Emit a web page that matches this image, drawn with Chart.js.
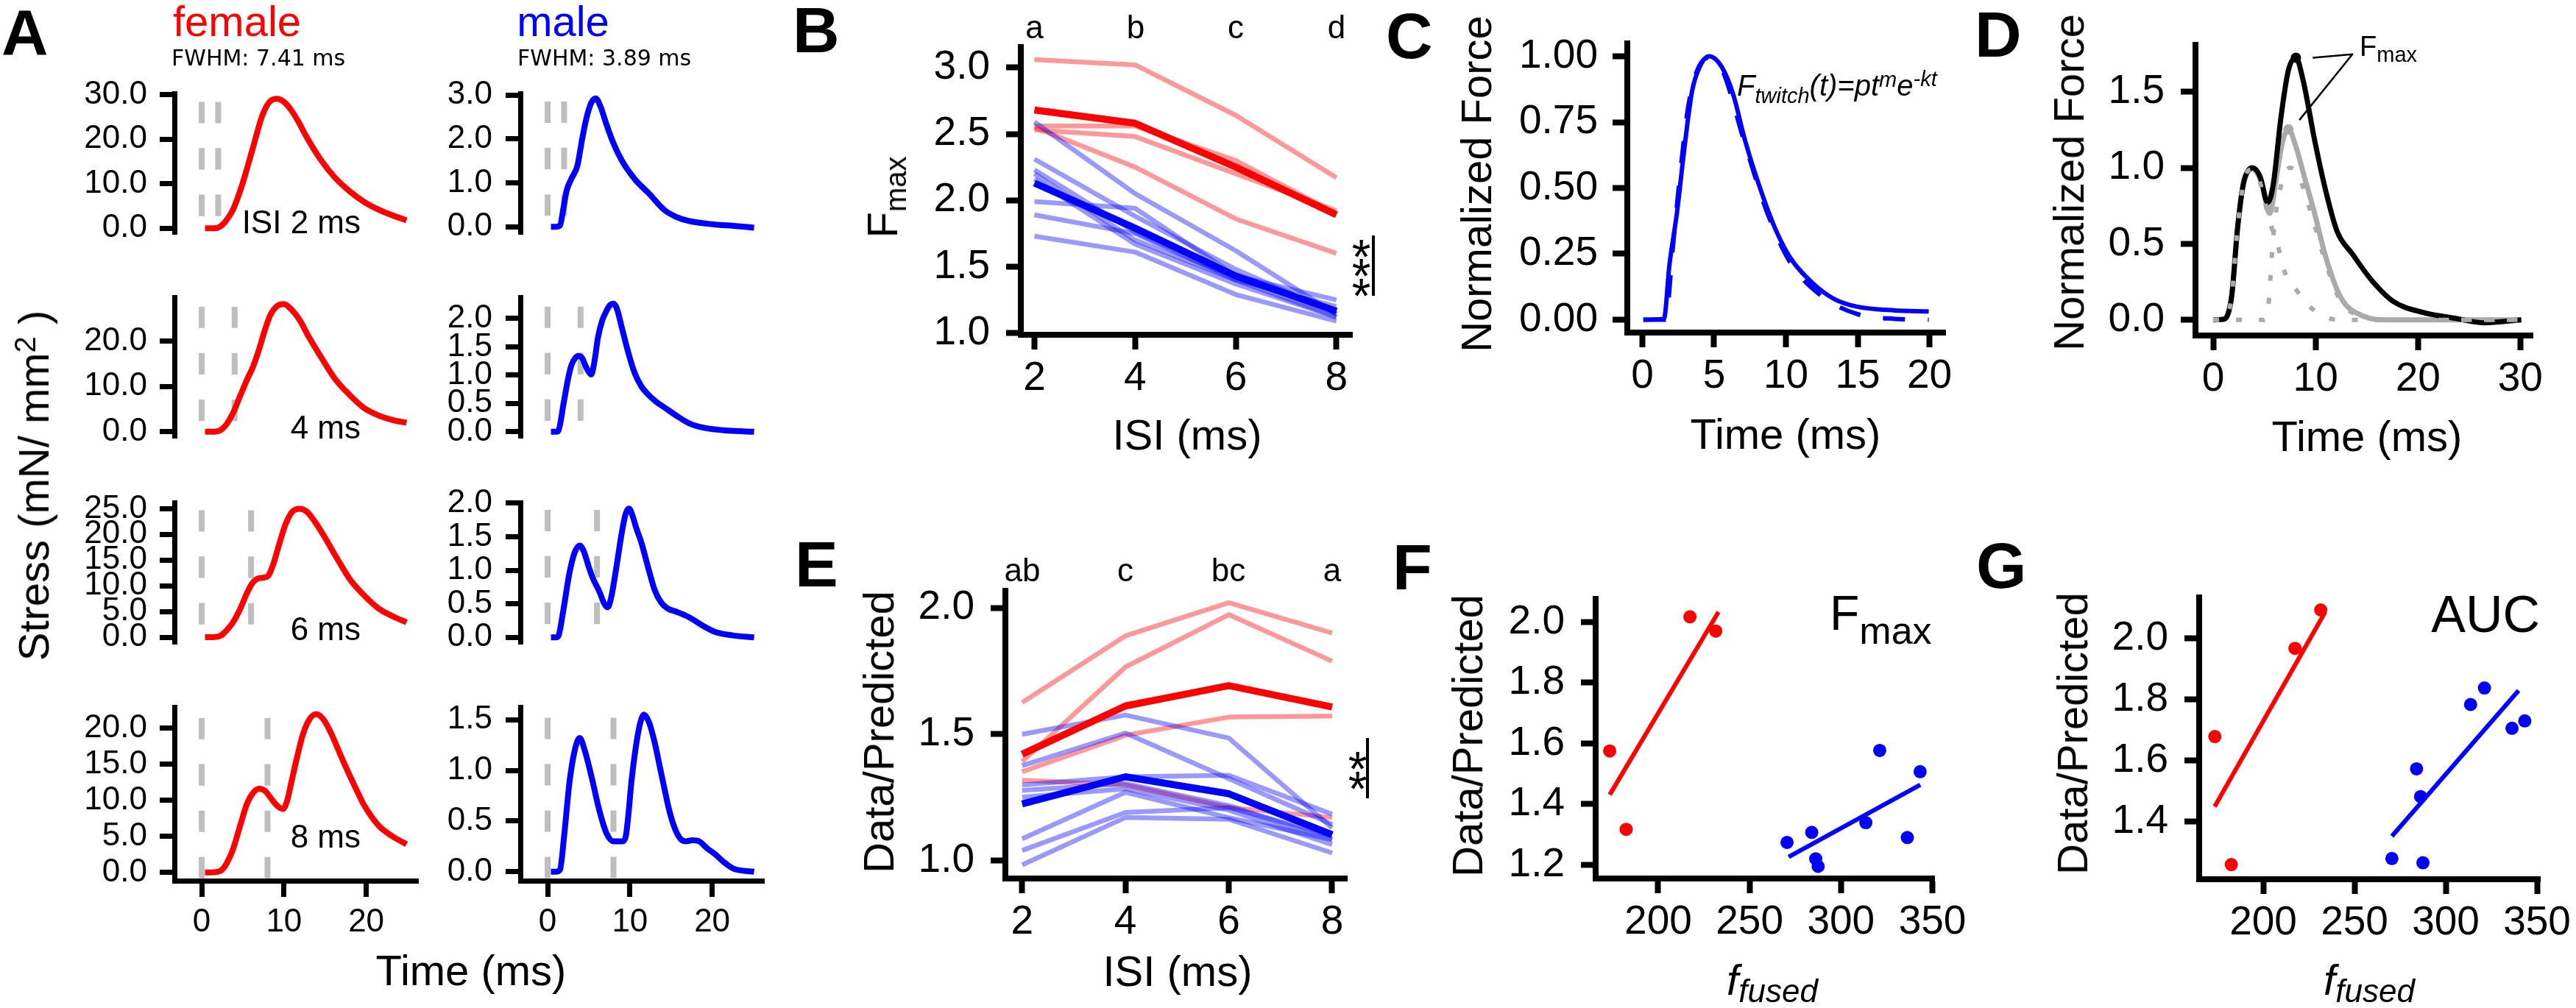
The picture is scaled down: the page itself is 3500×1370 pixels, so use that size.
<!DOCTYPE html>
<html>
<head>
<meta charset="utf-8">
<script src="https://cdn.jsdelivr.net/npm/chart.js@4/dist/chart.umd.min.js"></script>
<style>
body { margin: 0; background: #fff; width: 3500px; height: 1370px; position: relative; overflow: hidden; font-family: "Liberation Sans", Arial, sans-serif; }
canvas { position: absolute; }
.t { position: absolute; white-space: nowrap; line-height: 1; color: #000; }
.s { position: relative; line-height: 0; }
</style>
</head>
<body>
<script>
// ---------- A: stress traces (time in ms, stress) ----------
const isi = [2, 4, 6, 8];
const tF2 = [0.4,1.0,1.9,2.4,3.0,3.8,4.5,5.2,6.3,7.3,8.2,9.1,10.0,10.9,11.8,12.6,14.4,16.2,18.0,19.7,21.5,23.2,24.9];
const sF2 = [0,0,0.1,0.6,1.8,4.2,7.5,11.5,18.6,25.0,28.3,29.1,28.4,26.5,23.8,21.0,15.6,11.4,8.3,6.0,4.2,2.9,1.8];
const tF4 = [0.4,1.0,1.9,2.4,3.0,3.8,4.6,5.5,6.2,6.9,7.6,8.3,9.2,10.0,10.9,11.9,13.0,14.4,16.2,18.0,19.7,21.5,23.2,24.9];
const sF4 = [0,0,0.1,0.5,1.6,4.1,7.6,11.5,14.2,17.8,22.0,25.6,27.8,28.2,27.0,24.7,21.0,16.8,11.7,8.1,5.3,3.6,2.6,2.0];
const tF6 = [0.4,1.0,1.9,2.4,3.0,3.8,4.7,5.5,6.2,6.8,7.5,8.1,8.7,9.4,10.2,11.0,11.9,12.8,13.7,14.9,16.2,17.1,18.0,19.7,21.5,23.2,24.9];
const sF6 = [0,0,0.1,0.4,1.3,2.9,5.6,8.6,10.6,11.4,11.6,12.0,14.2,18.0,22.0,24.4,25.0,24.4,22.6,19.6,16.0,13.6,11.3,8.2,5.6,4.1,2.9];
const tF8 = [0.4,1.0,1.9,2.4,3.0,3.8,4.7,5.5,6.3,7.0,7.7,8.4,9.2,9.9,10.4,10.9,11.6,12.3,13.1,13.9,14.8,15.8,16.9,18.0,19.0,19.7,21.5,23.2,24.9];
const sF8 = [0,0,0.1,0.3,1.2,3.2,6.6,9.5,11.1,11.6,11.3,10.3,9.2,8.8,10.0,12.5,16.0,19.1,21.2,21.9,21.2,19.1,16.2,13.4,11.0,9.4,6.5,5.0,3.9];

const tM2 = [0.4,1.0,1.5,1.9,2.3,2.9,3.6,4.2,4.7,5.3,5.85,6.4,7.15,8.0,9.1,10.7,12.3,14.2,15.7,17.2,20.4,22.6,25.1];
const sM2 = [0,0,0.03,0.4,0.82,1.1,1.38,2.0,2.46,2.82,2.92,2.75,2.33,1.9,1.48,1.06,0.76,0.38,0.22,0.13,0.05,0.02,-0.02];
const tM4 = [0.4,1.0,1.3,1.96,2.5,2.9,3.4,3.76,4.2,4.5,4.9,5.3,5.7,6.1,6.6,7.1,7.6,8.0,8.4,9.0,9.8,10.6,11.4,12.2,13.2,14.2,15.7,17.2,19.0,22.0,25.1];
const sM4 = [0,0,0.02,0.52,0.95,1.18,1.31,1.34,1.30,1.2,1.08,1.01,1.25,1.65,1.95,2.12,2.24,2.26,2.18,1.85,1.40,1.03,0.80,0.66,0.53,0.43,0.28,0.15,0.07,0.02,0];
const tM6 = [0.4,1.0,1.3,1.9,2.65,3.3,3.9,4.4,5.0,5.5,6.3,6.9,7.3,7.7,8.4,9.0,9.5,9.9,10.3,10.8,11.4,12.2,13.0,13.8,14.6,15.7,17.2,18.8,20.4,22.5,25.1];
const sM6 = [0,0,0.02,0.4,0.96,1.27,1.37,1.28,1.05,0.88,0.68,0.5,0.45,0.58,1.08,1.55,1.85,1.92,1.82,1.62,1.41,1.05,0.71,0.52,0.43,0.38,0.30,0.18,0.08,0.03,0];
const tM8 = [0.4,1.0,1.5,2.0,2.65,3.3,3.9,4.5,5.0,5.5,6.3,7.15,8.0,9.1,9.5,9.8,10.2,10.7,11.2,11.7,12.3,13.0,13.6,14.2,14.8,15.5,16.2,16.8,17.6,18.4,19.4,20.4,21.5,22.6,25.1];
const sM8 = [0,0,0.02,0.35,0.88,1.2,1.32,1.2,1.05,0.88,0.6,0.38,0.30,0.30,0.35,0.55,0.9,1.22,1.45,1.55,1.48,1.28,1.05,0.82,0.6,0.42,0.32,0.30,0.31,0.30,0.23,0.17,0.09,0.03,0];

const dashTopFemale = [28.4, 27.6, 24.7, 21.4];
const dashTopMale = [2.85, 2.21, 1.90, 1.52];

const femaleTicks = [[0,10,20,30],[0,10,20],[0,5,10,15,20,25],[0,5,10,15,20]];
const maleTicks = [[0,1,2,3],[0,0.5,1,1.5,2],[0,0.5,1,1.5,2],[0,0.5,1,1.5]];
const timeTicksA = [0, 10, 20];

// ---------- B: Fmax vs ISI ----------
const isiTicks = [2, 4, 6, 8];
const fmaxFemale = [[3.06,3.02,2.64,2.17],[2.56,2.56,2.30,1.90],[2.53,2.48,2.20,1.92],[2.55,2.25,1.86,1.60]];
const fmaxFemaleMean = [2.68,2.58,2.25,1.89];
const fmaxMale = [[2.59,2.05,1.62,1.14],[2.31,1.88,1.48,1.15],[2.23,1.76,1.41,1.17],[2.20,1.70,1.40,1.20],
                  [2.16,1.67,1.37,1.12],[1.99,1.94,1.43,1.25],[1.89,1.75,1.40,1.12],[1.73,1.61,1.29,1.09]];
const fmaxMaleMean = [2.13,1.79,1.43,1.165];
const lettersB = ['a','b','c','d'];

// ---------- C: single twitch and fit ----------
const tTwitch = [0.07,1.5,1.89,2.41,2.94,3.46,3.98,4.64,5.55,6.34,7.13,8.17,9.22,10.27,11.84,13.41,14.98,17.6,19.95];
const forceTwitch = [0,0.003,0.21,0.406,0.657,0.867,0.958,1.0,0.958,0.853,0.685,0.504,0.35,0.238,0.14,0.077,0.049,0.035,0.031];
const tFit = [0.07,1.6,2.15,2.67,3.2,3.85,4.64,5.55,7.13,8.7,10.27,12.36,14.98,17.6,19.95];
const forceFit = [0,0,0.29,0.573,0.81,0.95,0.995,0.95,0.67,0.406,0.22,0.095,0.021,0.003,0];

// ---------- D: doublet vs summed twitches ----------
const tDoublet = [0,1.1,1.5,1.83,2.38,2.94,3.4,3.85,4.59,5.32,5.87,6.61,7.34,8.08,8.81,9.91,11.01,12.12,13.59,15.42,17.62,20.56,23.5,26.44,30.1];
const forceDoublet = [0,0.005,0.05,0.169,0.603,0.892,0.98,1.0,0.94,0.771,0.892,1.326,1.639,1.723,1.567,1.181,0.844,0.579,0.434,0.265,0.12,0.048,0.012,-0.019,0];
const tSum = [0,1.1,1.5,1.83,2.38,2.94,3.4,3.85,4.77,5.5,6.24,6.8,7.34,8.08,8.81,9.91,11.01,12.48,14.68,17.0,30.1];
const forceSum = [0,0.005,0.05,0.169,0.603,0.892,0.98,0.99,0.89,0.70,0.964,1.18,1.253,1.14,0.964,0.699,0.41,0.145,0.024,0,0];
const tTw1 = [0,1.1,1.5,1.83,2.38,2.94,3.4,3.85,4.59,5.5,6.24,6.98,8.08,9.55,11.76,14,30.1];
const forceTw1 = [0,0.005,0.05,0.169,0.603,0.892,0.98,0.99,0.90,0.65,0.506,0.317,0.2,0.08,0.004,0,0];
const tTw2 = [0,5.0,5.4,5.87,6.61,7.53,8.45,9.18,9.91,11.01,12.48,14.68,17,30.1];
const forceTw2 = [0,0,0.1,0.55,0.88,1.0,0.93,0.78,0.62,0.37,0.12,0.02,0,0];
const fmaxPeaks = { x: [8.08, 7.34], y: [1.723, 1.253] };
const fmaxLeader = { x: [9.72, 13.6, 8.42], y: [1.723, 1.746, 1.314] };
const timeTicksC = [0,5,10,15,20];
const timeTicksD = [0,10,20,30];

// ---------- E: data / predicted vs ISI ----------
const ratioFemale = [[1.626,1.889,2.02,1.90],[1.392,1.766,1.973,1.789],[1.352,1.496,1.568,1.572],[1.318,1.30,1.211,1.171]];
const ratioFemaleMean = [1.421,1.612,1.692,1.608];
const ratioMale = [[1.50,1.576,1.485,1.13],[1.376,1.505,1.325,1.144],[1.30,1.332,1.338,1.184],[1.278,1.305,1.218,1.084],
                   [1.251,1.285,1.20,1.064],[1.087,1.271,1.17,1.084],[1.041,1.191,1.21,1.10],[0.984,1.171,1.164,1.031]];
const ratioMaleMean = [1.225,1.332,1.265,1.103];
const lettersE = ['ab','c','bc','a'];

// ---------- F, G: ratio vs f_fused ----------
const ffusedFemale = [173.5,182.5,217.4,231.5];
const ffusedMale = [270.5,284,286.2,287.5,313.6,321.2,336.3,343.3];
const fmaxRatioFemale = [1.575,1.317,2.017,1.97];
const fmaxRatioMale = [1.274,1.307,1.22,1.195,1.339,1.577,1.29,1.507];
const aucRatioFemale = [1.679,1.259,1.968,2.094];
const aucRatioMale = [1.279,1.573,1.482,1.265,1.784,1.838,1.706,1.73];
const fitFmaxFemale = { x: [173.5, 233], y: [1.431, 2.033] };
const fitFmaxMale = { x: [271.4, 343.4], y: [1.226, 1.464] };
const fitAucFemale = { x: [173.4, 233.9], y: [1.449, 2.087] };
const fitAucMale = { x: [270.5, 339.9], y: [1.352, 1.83] };
const ffusedTicks = [200,250,300,350];

// ---------- helpers ----------
Chart.defaults.font.family = 'Liberation Sans';
const RED = '#ff0000', BLUE = '#0000ff';
const LRED = 'rgba(255,0,0,0.4)', LBLUE = 'rgba(0,0,255,0.4)';
const pts = (xs, ys) => xs.map((x, i) => ({ x: x, y: ys[i] }));

function curve(xs, ys, color, width, extra) {
  return Object.assign({ data: pts(xs, ys), borderColor: color, borderWidth: width, pointRadius: 0,
    fill: false, cubicInterpolationMode: 'monotone', borderCapStyle: 'butt', borderJoinStyle: 'round' }, extra || {});
}
function dots(xs, ys, color, r) {
  return { data: pts(xs, ys), showLine: false, pointRadius: r, pointBackgroundColor: color,
    pointBorderWidth: 0, borderColor: color, order: 0 };
}

function axis(a, show, isY, yW, xH) {
  const lw = a.lw || 8;
  return {
    type: 'linear', display: show, min: a.min, max: a.max,
    afterBuildTicks: s => { s.ticks = a.ticks.map(v => ({ value: v })); },
    afterFit: s => { if (isY) s.width = yW; else s.height = xH; },
    grid: { drawOnChartArea: false, drawTicks: true, tickLength: a.tl || 20, tickWidth: lw, tickColor: '#000' },
    border: { display: true, width: lw, color: '#000' },
    ticks: { color: '#000', padding: a.pad, autoSkip: false, maxRotation: 0,
      font: { size: a.size }, callback: v => a.fmt(v) }
  };
}

function makeChart(r, xa, ya, datasets, showX) {
  const yW = 170, xH = showX ? 110 : 45, padT = 45, padR = 70;
  const c = document.createElement('canvas');
  const w = Math.round(r[2] - r[0] + yW + padR), h = Math.round(r[3] - r[1] + padT + xH);
  c.width = w; c.height = h;
  c.style.width = w + 'px'; c.style.height = h + 'px';
  c.style.left = (r[0] - yW) + 'px'; c.style.top = (r[1] - padT) + 'px';
  document.body.appendChild(c);
  new Chart(c, {
    type: 'line',
    data: { datasets: datasets },
    options: {
      responsive: false, animation: false, devicePixelRatio: 1,
      layout: { padding: { left: 0, top: padT, right: padR, bottom: showX ? 0 : xH } },
      plugins: { legend: { display: false }, tooltip: { enabled: false } },
      scales: { x: axis(xa, showX, false, yW, xH), y: axis(ya, true, true, yW, xH) }
    }
  });
}

function txt(html, x, y, o) {
  const d = document.createElement('div');
  d.className = 't';
  d.innerHTML = html;
  const fs = o.size;
  d.style.fontSize = fs + 'px';
  if (o.family) d.style.fontFamily = o.family;
  if (o.bold) d.style.fontWeight = 'bold';
  if (o.italic) d.style.fontStyle = 'italic';
  if (o.color) d.style.color = o.color;
  if (o.rot) {
    d.style.left = (x - 0.3465 * fs) + 'px';
    d.style.top = y + 'px';
    d.style.transform = 'translate(-50%,-50%) rotate(-90deg)';
  } else {
    d.style.left = x + 'px';
    d.style.top = (y - 0.8465 * fs) + 'px';
    if (o.align === 'center') d.style.transform = 'translateX(-50%)';
    if (o.align === 'right') d.style.transform = 'translateX(-100%)';
  }
  document.body.appendChild(d);
}
function bar(x, y0, y1) {
  const d = document.createElement('div');
  d.style.cssText = 'position:absolute;background:#000;width:4px;left:' + (x - 2) + 'px;top:' + y0 + 'px;height:' + (y1 - y0) + 'px';
  document.body.appendChild(d);
}
// significance stars stacked vertically, centred on (cx, cy)
function stars(n, cx, cy) {
  const fs = 66, step = 26.5;
  for (let i = 0; i < n; i++) {
    const yc = cy + (i - (n - 1) / 2) * step;
    txt('*', cx, yc + 0.565 * fs, { size: fs, align: 'center' });
  }
}

const f1 = v => v.toFixed(1), f2 = v => v.toFixed(2), f0 = v => String(v);

// ---------- panel A ----------
const rowTop = [127, 404, 683, 961], rowBot = [362.5, 639.5, 920, 1197];
const femaleY = [[-1.27,30.3],[-1.33,29.7],[-1.27,26.2],[-1.14,22.9]];
const maleY = [[-0.164,3.035],[-0.106,2.375],[-0.095,2.01],[-0.089,1.625]];
const femaleT = [tF2, tF4, tF6, tF8], femaleS = [sF2, sF4, sF6, sF8];
const maleT = [tM2, tM4, tM6, tM8], maleS = [sM2, sM4, sM6, sM8];
const GRAYDASH = { borderColor: '#bebebe', borderWidth: 8, borderDash: [29, 34], order: 5 };

for (let i = 0; i < 4; i++) {
  const xA = { min: -3.32, max: 26.3, ticks: timeTicksA, fmt: f0, size: 44, tl: 22, pad: 8, lw: 7 };
  const last = i === 3;
  const fy = femaleY[i], my = maleY[i];
  makeChart([237, rowTop[i], 568, rowBot[i]], xA,
    { min: fy[0], max: fy[1], ticks: femaleTicks[i], fmt: f1, size: 44, tl: 20, pad: 17, lw: 7 },
    [
      curve(femaleT[i], femaleS[i], RED, 8, { order: 0 }),
      curve([0, 0], [dashTopFemale[i], fy[0]], '#bebebe', 8, GRAYDASH),
      curve([isi[i], isi[i]], [dashTopFemale[i], fy[0]], '#bebebe', 8, GRAYDASH)
    ], last);
  makeChart([707, rowTop[i], 1038, rowBot[i]], xA,
    { min: my[0], max: my[1], ticks: maleTicks[i], fmt: f1, size: 44, tl: 20, pad: 18, lw: 7 },
    [
      curve(maleT[i], maleS[i], BLUE, 8, { order: 0 }),
      curve([0, 0], [dashTopMale[i], my[0]], '#bebebe', 8, GRAYDASH),
      curve([isi[i], isi[i]], [dashTopMale[i], my[0]], '#bebebe', 8, GRAYDASH)
    ], last);
}

// ---------- panel B ----------
const straight = { cubicInterpolationMode: 'default', tension: 0 };
const dsB = [];
dsB.push(curve(isiTicks, fmaxFemaleMean, RED, 9.5, Object.assign({ order: 0 }, straight)));
dsB.push(curve(isiTicks, fmaxMaleMean, BLUE, 9.5, Object.assign({ order: 0 }, straight)));
fmaxFemale.forEach(r => dsB.push(curve(isiTicks, r, LRED, 6.5, Object.assign({ order: 2 }, straight))));
fmaxMale.forEach(r => dsB.push(curve(isiTicks, r, LBLUE, 6.5, Object.assign({ order: 1 }, straight))));
makeChart([1387, 54, 1837, 455],
  { min: 1.73, max: 8.31, ticks: isiTicks, fmt: f0, size: 55, pad: 7 },
  { min: 0.987, max: 3.154, ticks: [1, 1.5, 2, 2.5, 3], fmt: f1, size: 55, pad: 22 }, dsB, true);

// ---------- panel C ----------
makeChart([2211, 51, 2643, 451.5],
  { min: -1.05, max: 21.1, ticks: timeTicksC, fmt: f0, size: 55, pad: 7 },
  { min: -0.049, max: 1.049, ticks: [0, 0.25, 0.5, 0.75, 1], fmt: f2, size: 55, pad: 20 },
  [
    curve(tTwitch, forceTwitch, BLUE, 6, { order: 1 }),
    curve(tFit, forceFit, BLUE, 6, { order: 0, borderDash: [30, 31] })
  ], true);

// ---------- panel D ----------
makeChart([2983, 51, 3440.6, 455.6],
  { min: -1.73, max: 31.2, ticks: timeTicksD, fmt: f0, size: 55, pad: 7 },
  { min: -0.103, max: 1.808, ticks: [0, 0.5, 1, 1.5], fmt: f1, size: 55, pad: 22 },
  [
    curve(tSum, forceSum, '#aaaaaa', 7, { order: 4 }),
    curve(tDoublet, forceDoublet, '#000', 7, { order: 3 }),
    curve(tTw1, forceTw1, '#aaaaaa', 6, { order: 2, borderDash: [8, 23] }),
    curve(tTw2, forceTw2, '#aaaaaa', 6, { order: 2, borderDash: [8, 23] }),
    curve(fmaxLeader.x, fmaxLeader.y, '#000', 2.5, Object.assign({ order: 0 }, straight)),
    dots([fmaxPeaks.x[0]], [fmaxPeaks.y[0]], '#000', 7),
    dots([fmaxPeaks.x[1]], [fmaxPeaks.y[1]], '#aaaaaa', 7)
  ], true);

// ---------- panel E ----------
const dsE = [];
dsE.push(curve(isiTicks, ratioFemaleMean, RED, 9.5, Object.assign({ order: 0 }, straight)));
dsE.push(curve(isiTicks, ratioMaleMean, BLUE, 9.5, Object.assign({ order: 0 }, straight)));
ratioFemale.forEach(r => dsE.push(curve(isiTicks, r, LRED, 6.5, Object.assign({ order: 2 }, straight))));
ratioMale.forEach(r => dsE.push(curve(isiTicks, r, LBLUE, 6.5, Object.assign({ order: 1 }, straight))));
makeChart([1366, 793, 1830, 1194],
  { min: 1.676, max: 8.285, ticks: isiTicks, fmt: f0, size: 55, pad: 7 },
  { min: 0.930, max: 2.067, ticks: [1, 1.5, 2], fmt: f1, size: 55, pad: 22 }, dsE, true);

// ---------- panels F and G ----------
makeChart([2168, 804, 2628, 1194],
  { min: 165.8, max: 351, ticks: ffusedTicks, fmt: f0, size: 55, pad: 7 },
  { min: 1.155, max: 2.076, ticks: [1.2, 1.4, 1.6, 1.8, 2.0], fmt: f1, size: 55, pad: 22 },
  [
    dots(ffusedFemale, fmaxRatioFemale, RED, 9),
    dots(ffusedMale, fmaxRatioMale, BLUE, 9),
    curve(fitFmaxFemale.x, fitFmaxFemale.y, RED, 6, Object.assign({ order: 1 }, straight)),
    curve(fitFmaxMale.x, fitFmaxMale.y, BLUE, 6, Object.assign({ order: 1 }, straight))
  ], true);
makeChart([2988, 801.5, 3451, 1194],
  { min: 164.9, max: 351.6, ticks: ffusedTicks, fmt: f0, size: 55, pad: 7 },
  { min: 1.211, max: 2.135, ticks: [1.4, 1.6, 1.8, 2.0], fmt: f1, size: 55, pad: 22 },
  [
    dots(ffusedFemale, aucRatioFemale, RED, 9),
    dots(ffusedMale, aucRatioMale, BLUE, 9),
    curve(fitAucFemale.x, fitAucFemale.y, RED, 6, Object.assign({ order: 1 }, straight)),
    curve(fitAucMale.x, fitAucMale.y, BLUE, 6, Object.assign({ order: 1 }, straight))
  ], true);

// ---------- text ----------
const L = { size: 88, bold: true };
txt('A', 2, 74, L); txt('B', 1077, 71, L); txt('C', 1883, 79, L); txt('D', 2683, 77, L);
txt('E', 1080, 797, L); txt('F', 1892, 801, L); txt('G', 2685, 799, L);

txt('female', 322, 49, { size: 58, align: 'center', color: RED });
txt('male', 765, 49, { size: 58, align: 'center', color: BLUE });
txt('FWHM: 7.41 ms', 233, 89, { size: 30, family: 'DejaVu Sans' });
txt('FWHM: 3.89 ms', 703, 89, { size: 30, family: 'DejaVu Sans' });
txt('ISI 2 ms', 490, 317, { size: 44, align: 'right' });
txt('4 ms', 490, 596, { size: 44, align: 'right' });
txt('6 ms', 490, 870, { size: 44, align: 'right' });
txt('8 ms', 490, 1152, { size: 44, align: 'right' });
txt('Time (ms)', 640, 1339, { size: 58, align: 'center' });
txt('Stress (mN/ mm<span class="s" style="font-size:40px;top:-18px">2</span> )', 66, 660, { size: 58, rot: true });

txt('F<span class="s" style="font-size:40px;top:12px">max</span>', 1219, 268, { size: 58, rot: true });
txt('ISI (ms)', 1613, 611, { size: 58, align: 'center' });
[1405.5, 1543, 1679, 1816].forEach((x, i) => txt(lettersB[i], x, 52, { size: 44, align: 'center' }));
stars(3, 1849.5, 361);
bar(1866, 320, 402);

txt('Normalized Force', 2026, 250, { size: 58, rot: true });
txt('Time (ms)', 2426, 610, { size: 58, align: 'center' });
txt('F<span class="s" style="font-size:29px;top:10px">twitch</span>(t)=pt<span class="s" style="font-size:29px;top:-12px">m</span>e<span class="s" style="font-size:29px;top:-13px">-kt</span>', 2360, 130, { size: 40, italic: true });

txt('Normalized Force', 2831, 248, { size: 58, rot: true });
txt('Time (ms)', 3216, 613, { size: 58, align: 'center' });
txt('F<span class="s" style="font-size:29px;top:8px">max</span>', 3206, 76, { size: 38 });

txt('Data/Predicted', 1214, 995, { size: 58, rot: true });
txt('ISI (ms)', 1600, 1340, { size: 58, align: 'center' });
[1389, 1529, 1669, 1810].forEach((x, i) => txt(lettersE[i], x, 790, { size: 44, align: 'center' }));
stars(2, 1844.5, 1044);
bar(1858, 1003, 1085);

txt('Data/Predicted', 2014, 1000, { size: 58, rot: true });
txt('<i>f</i><span class="s" style="font-size:44px;top:10px"><i>fused</i></span>', 2408, 1352, { size: 58, align: 'center' });
txt('F<span class="s" style="font-size:52px;top:19px">max</span>', 2486, 856, { size: 66 });

txt('Data/Predicted', 2836, 997, { size: 58, rot: true });
txt('<i>f</i><span class="s" style="font-size:44px;top:10px"><i>fused</i></span>', 3219, 1352, { size: 58, align: 'center' });
txt('AUC', 3451, 859, { size: 70, align: 'right' });
</script>
</body>
</html>
